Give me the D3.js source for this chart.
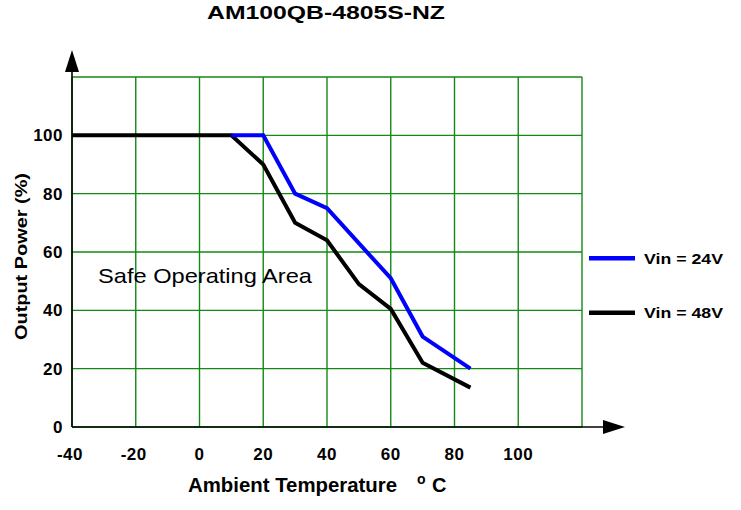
<!DOCTYPE html>
<html>
<head>
<meta charset="utf-8">
<script src="https://cdn.jsdelivr.net/npm/d3@7"></script>
<style>
  html, body { margin: 0; padding: 0; background: #fff; }
  text { font-family: "Liberation Sans", Arial, sans-serif; }
</style>
</head>
<body>
<svg id="chart" width="741" height="510"></svg>
<script>
// ---- data ----
const title = "AM100QB-4805S-NZ";
const xTicks = [-40, -20, 0, 20, 40, 60, 80, 100];
const xGrid = [-40, -20, 0, 20, 40, 60, 80, 100, 120];
const yTicks = [0, 20, 40, 60, 80, 100];
const yGrid = [0, 20, 40, 60, 80, 100, 120];

const temp24 = [10, 20, 30, 40, 60, 70, 85];
const power24 = [100, 100, 80, 75, 51, 31, 20];
const temp48 = [-40, 10, 20, 30, 40, 50, 60, 70, 85];
const power48 = [100, 100, 90, 70, 64, 49, 40.5, 22, 13.5];

const seriesNames = ["Vin = 24V", "Vin = 48V"];
const seriesColors = ["#0000ff", "#000000"];

// ---- drawing ----
const svg = d3.select("#chart");
const x = d3.scaleLinear().domain([-40, 120]).range([72, 582]);
const y = d3.scaleLinear().domain([0, 120]).range([427, 77]);
const gridColor = "#138a13";

// grid
svg.append("g").selectAll("line").data(xGrid).join("line")
  .attr("x1", d => x(d)).attr("x2", d => x(d))
  .attr("y1", y(0)).attr("y2", y(120))
  .attr("stroke", gridColor).attr("stroke-width", 1.4);
svg.append("g").selectAll("line").data(yGrid).join("line")
  .attr("x1", x(-40)).attr("x2", x(120))
  .attr("y1", d => y(d)).attr("y2", d => y(d))
  .attr("stroke", gridColor).attr("stroke-width", 1.4);

// axes with arrows
svg.append("line").attr("x1", x(-40)).attr("x2", 604).attr("y1", y(0)).attr("y2", y(0))
  .attr("stroke", "#000").attr("stroke-width", 1.6);
svg.append("path").attr("d", `M603,${y(0)-7}L625,${y(0)}L603,${y(0)+7}Z`).attr("fill", "#000");
svg.append("line").attr("x1", x(-40)).attr("x2", x(-40)).attr("y1", y(0)).attr("y2", 71)
  .attr("stroke", "#000").attr("stroke-width", 1.6);
svg.append("path").attr("d", `M${x(-40)-7},72L${x(-40)},50L${x(-40)+7},72Z`).attr("fill", "#000");

// tick labels
svg.append("g").selectAll("text").data(xTicks).join("text")
  .attr("x", d => x(d) + (d < 0 ? -2 : 0)).attr("y", 460)
  .attr("text-anchor", "middle").attr("font-weight", "bold").attr("font-size", 17)
  .attr("letter-spacing", 0.5)
  .text(d => d);
svg.append("g").selectAll("text").data(yTicks).join("text")
  .attr("x", 63).attr("y", d => y(d) + 6)
  .attr("text-anchor", "end").attr("font-weight", "bold").attr("font-size", 17)
  .attr("letter-spacing", 0.5)
  .text(d => d);

// lines
const line = d3.line().x(d => x(d[0])).y(d => y(d[1]));
const data48 = temp48.map((t, i) => [t, power48[i]]);
const data24 = temp24.map((t, i) => [t, power24[i]]);
svg.append("path").datum(data48).attr("d", line)
  .attr("fill", "none").attr("stroke", seriesColors[1]).attr("stroke-width", 4);
svg.append("path").datum(data24).attr("d", line)
  .attr("fill", "none").attr("stroke", seriesColors[0]).attr("stroke-width", 4);

// area label
svg.append("text").attr("x", 98).attr("y", 283)
  .attr("font-size", 21).attr("textLength", 214).attr("lengthAdjust", "spacingAndGlyphs")
  .text("Safe Operating Area");

// title
svg.append("text").attr("x", 207).attr("y", 19)
  .attr("font-size", 18).attr("font-weight", "bold")
  .attr("textLength", 238).attr("lengthAdjust", "spacingAndGlyphs")
  .text(title);

// axis titles
svg.append("text").attr("x", 188).attr("y", 492)
  .attr("font-size", 20).attr("font-weight", "bold")
  .attr("textLength", 209).attr("lengthAdjust", "spacingAndGlyphs")
  .text("Ambient Temperature");
svg.append("text").attr("x", 417).attr("y", 484)
  .attr("font-size", 14).attr("font-weight", "bold").text("o");
svg.append("text").attr("x", 432).attr("y", 492)
  .attr("font-size", 20).attr("font-weight", "bold").text("C");

svg.append("text").attr("transform", "translate(26.5,256.5) rotate(-90)")
  .attr("text-anchor", "middle").attr("font-size", 16).attr("font-weight", "bold")
  .attr("textLength", 167).attr("lengthAdjust", "spacingAndGlyphs")
  .text("Output Power (%)");

// legend
const legY = [258.3, 312.7];
const leg = svg.append("g").selectAll("g").data(seriesNames).join("g");
leg.append("line").attr("x1", 589).attr("x2", 635)
  .attr("y1", (d, i) => legY[i]).attr("y2", (d, i) => legY[i])
  .attr("stroke", (d, i) => seriesColors[i]).attr("stroke-width", 4.5);
leg.append("text").attr("x", 644).attr("y", (d, i) => legY[i] + 5.5)
  .attr("font-size", 15).attr("font-weight", "bold")
  .attr("textLength", 79).attr("lengthAdjust", "spacingAndGlyphs")
  .text(d => d);
</script>
</body>
</html>
